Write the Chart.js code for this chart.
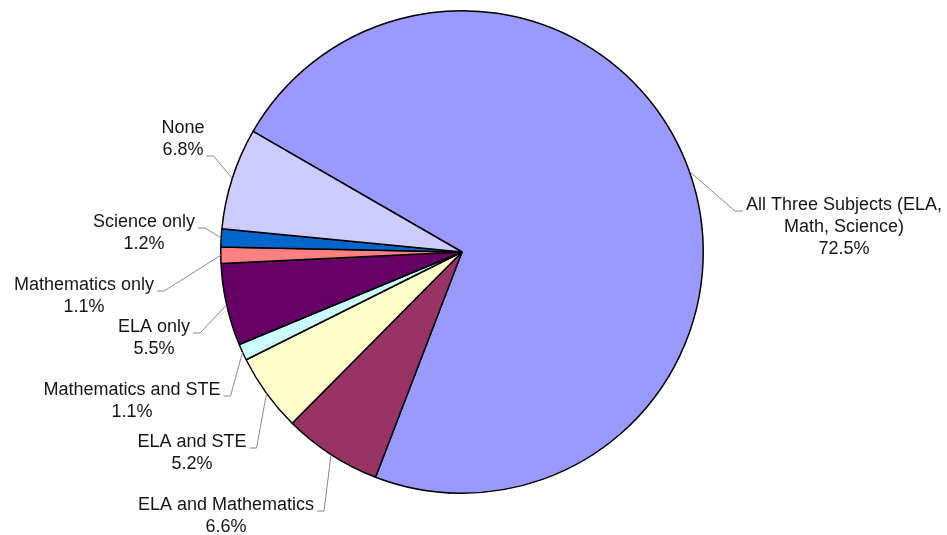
<!DOCTYPE html>
<html lang="en">

<head>
    <meta charset="UTF-8">
    <title>Subjects Pie Chart</title>
    <script src="https://cdn.jsdelivr.net/npm/chart.js"></script>
    <style>
        html, body { margin: 0; padding: 0; background: #ffffff; }
        #subjectsChart { display: block; }
    </style>
</head>

<body>
    <canvas id="subjectsChart" width="947" height="535"></canvas>

    <script>
        // slice data, clockwise from the top-left edge
        const categories = [
            'All Three Subjects (ELA, Math, Science)',
            'ELA and Mathematics',
            'ELA and STE',
            'Mathematics and STE',
            'ELA only',
            'Mathematics only',
            'Science only',
            'None'
        ];
        const percents = [72.5, 6.6, 5.2, 1.1, 5.5, 1.1, 1.2, 6.8];
        const labelLines = [
            ['All Three Subjects (ELA,', 'Math, Science)'],
            ['ELA and Mathematics'],
            ['ELA and STE'],
            ['Mathematics and STE'],
            ['ELA only'],
            ['Mathematics only'],
            ['Science only'],
            ['None']
        ];
        const sliceColors = ['#9999ff', '#993366', '#ffffcc', '#ccffff', '#660066', '#ff8080', '#0066cc', '#ccccff'];

        // where each label block sits: centre x, first line y, which line the leader hangs from
        const labelPlaces = [
            { x: 844, y: 205, side: 'right', hang: 0 },
            { x: 226, y: 505, side: 'left', hang: 0 },
            { x: 192, y: 442, side: 'left', hang: 0 },
            { x: 132, y: 390, side: 'left', hang: 0 },
            { x: 154, y: 327, side: 'left', hang: 0 },
            { x: 84, y: 285, side: 'left', hang: 0 },
            { x: 144, y: 222, side: 'left', hang: 0 },
            { x: 183, y: 128, side: 'left', hang: 1 }
        ];

        const lineGap = 22;
        const labelFont = '18px "Liberation Sans", Arial, sans-serif';

        // draws the category/percent labels with elbow leader lines
        const outsideLabels = {
            id: 'outsideLabels',
            afterDatasetsDraw(chart) {
                const ctx = chart.ctx;
                const arcs = chart.getDatasetMeta(0).data;
                ctx.save();
                ctx.font = labelFont;
                ctx.textAlign = 'center';
                ctx.textBaseline = 'middle';

                arcs.forEach((arc, i) => {
                    const p = labelPlaces[i];
                    const lines = labelLines[i].concat([percents[i].toFixed(1) + '%']);

                    ctx.fillStyle = '#161616';
                    lines.forEach((t, k) => ctx.fillText(t, p.x, p.y + k * lineGap));

                    // leader line to the middle of the slice edge
                    const { x, y, startAngle, endAngle, outerRadius } = arc.getProps(['x', 'y', 'startAngle', 'endAngle', 'outerRadius'], true);
                    const mid = (startAngle + endAngle) / 2;
                    const ex = x + Math.cos(mid) * outerRadius;
                    const ey = y + Math.sin(mid) * outerRadius;

                    const hangText = lines[p.hang];
                    const w = ctx.measureText(hangText).width;
                    const ly = p.y + p.hang * lineGap + 6;
                    let sx, kx;
                    if (p.side === 'left') {
                        sx = p.x + w / 2 + 3;
                        kx = sx + 7;
                    } else {
                        sx = p.x - w / 2 - 3;
                        kx = sx - 8;
                    }

                    ctx.strokeStyle = '#8a8a8a';
                    ctx.lineWidth = 1;
                    ctx.beginPath();
                    ctx.moveTo(sx, ly);
                    ctx.lineTo(kx, ly);
                    ctx.lineTo(ex, ey);
                    ctx.stroke();
                });
                ctx.restore();
            }
        };

        const ctx = document.getElementById('subjectsChart').getContext('2d');
        new Chart(ctx, {
            type: 'pie',
            data: {
                labels: categories,
                datasets: [{
                    data: percents,
                    backgroundColor: sliceColors,
                    borderColor: '#000000',
                    borderWidth: 1.5
                }]
            },
            options: {
                responsive: false,
                animation: false,
                rotation: -60,
                layout: {
                    padding: { top: 10, bottom: 41, left: 0, right: 23 }
                },
                plugins: {
                    legend: { display: false },
                    tooltip: { enabled: false }
                }
            },
            plugins: [outsideLabels]
        });
    </script>
</body>

</html>
